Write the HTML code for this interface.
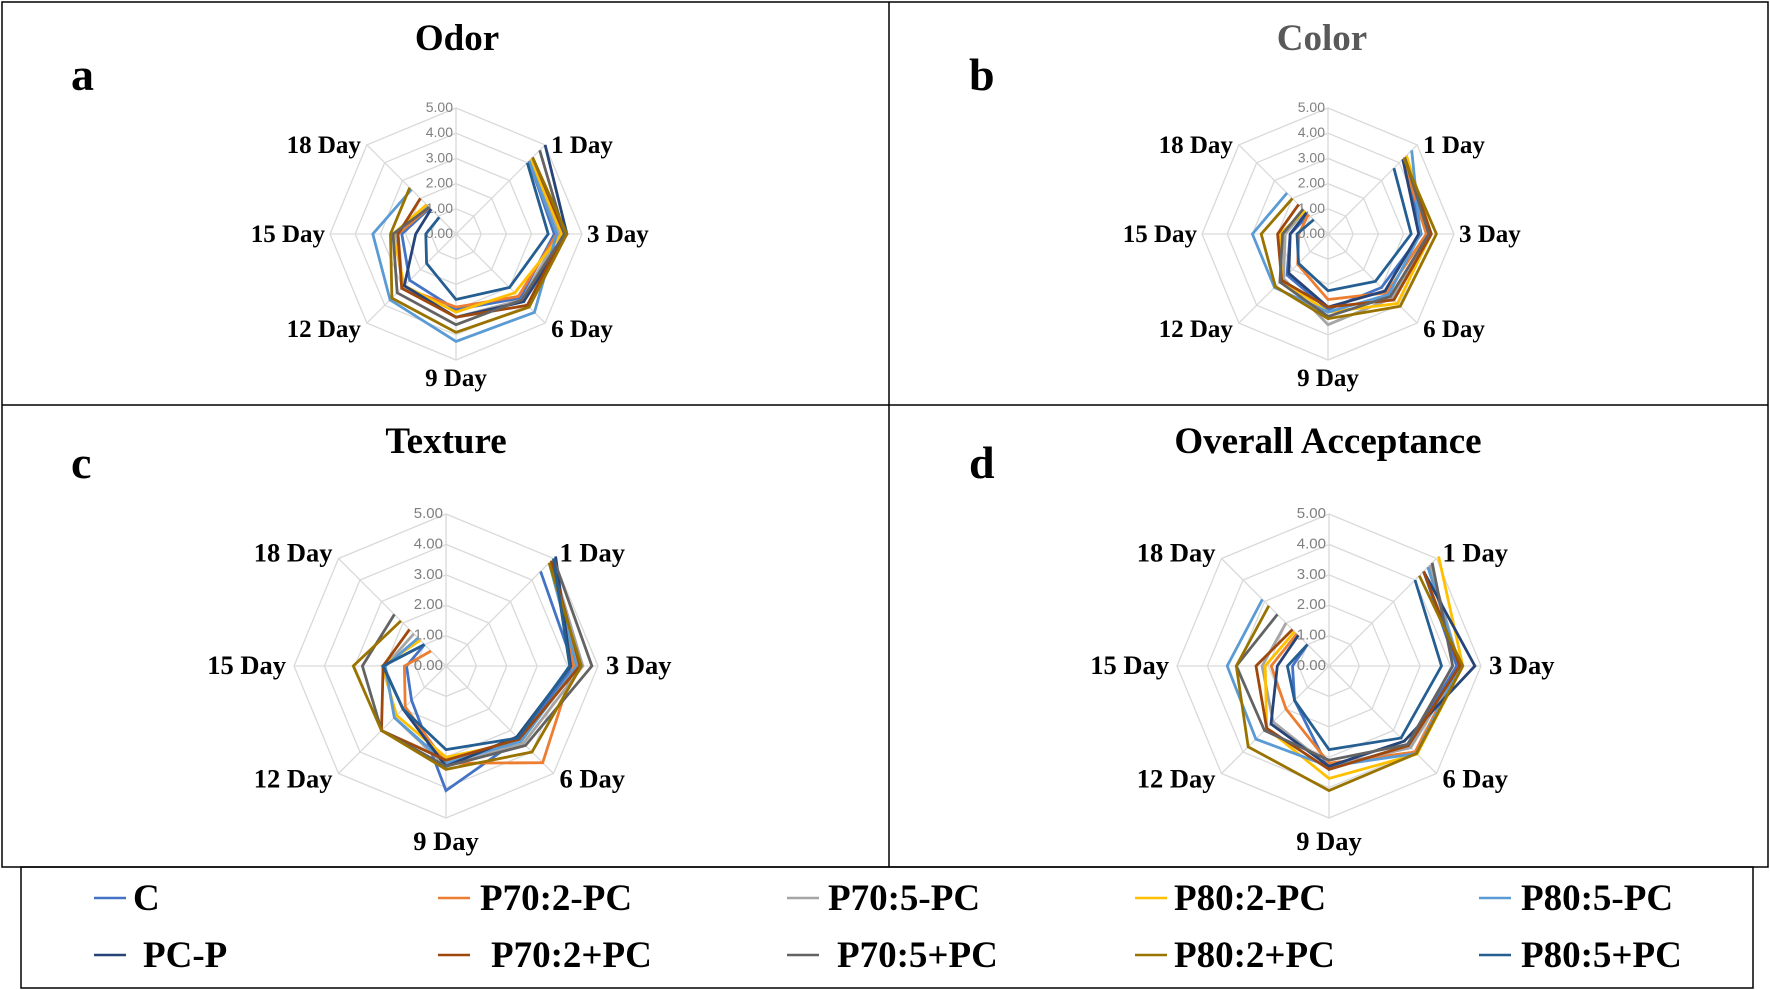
<!DOCTYPE html>
<html><head><meta charset="utf-8"><style>
html,body{margin:0;padding:0;background:#fff}
svg{display:block}
</style></head><body>
<svg id="s" width="1770" height="990" viewBox="0 0 1770 990" xmlns="http://www.w3.org/2000/svg" font-family="Liberation Serif, serif">
<rect x="2" y="2" width="1766" height="865" fill="none" stroke="#000" stroke-width="1.5"/>
<line x1="889" y1="2" x2="889" y2="867" stroke="#000" stroke-width="1.5"/>
<line x1="2" y1="405" x2="1768" y2="405" stroke="#000" stroke-width="1.5"/>
<rect x="21" y="867" width="1732" height="121" fill="none" stroke="#000" stroke-width="1.5"/>
<g font-weight="bold" font-size="46" fill="#000">
<text x="71" y="90">a</text><text x="969" y="90">b</text>
<text x="71" y="478">c</text><text x="969" y="478">d</text>
</g>
<g font-weight="bold" font-size="37" text-anchor="middle">
<text x="457" y="50" fill="#000">Odor</text>
<text x="1322" y="50" fill="#595959">Color</text>
<text x="446" y="453" fill="#000">Texture</text>
<text x="1328" y="453" fill="#000">Overall Acceptance</text>
</g>
<g id="charts"></g>
<g id="legend" font-weight="bold" font-size="37"></g>
</svg>
<script>
var cols=["#4472C4","#ED7D31","#A5A5A5","#FFC000","#5B9BD5","#264478","#9E480E","#636363","#997300","#255E91"];
var names=["C","P70:2-PC","P70:5-PC","P80:2-PC","P80:5-PC","PC-P","P70:2+PC","P70:5+PC","P80:2+PC","P80:5+PC"];
var panels=[
{cx:456,cy:234,R:126,data:[
[4.1,3.9,3.6,3.0,2.6,2.15,1.46],[4.1,4.0,3.5,2.9,3.0,2.3,1.5],[4.2,4.1,3.7,3.3,3.0,2.4,1.6],[4.2,4.2,3.3,3.1,2.9,2.5,1.65],[4.1,4.0,4.4,4.26,3.7,3.3,2.5],
[5.0,4.4,3.8,3.3,2.9,1.6,1.4],[4.3,4.3,4.0,3.3,3.05,2.3,2.0],[4.7,4.3,3.7,3.6,3.3,2.5,1.5],[4.3,4.4,4.1,3.9,3.6,2.6,2.6],[4.0,3.66,3.0,2.6,1.65,1.2,0.94]]},
{cx:1328,cy:234,R:126,data:[
[4.3,3.7,3.0,3.0,2.3,1.5,1.08],[4.2,3.9,3.3,2.6,1.7,1.16,1.1],[4.4,4.0,3.6,3.6,2.5,1.7,1.3],[4.4,4.1,3.9,3.1,2.6,1.9,1.3],[4.7,3.66,3.4,3.1,3.0,3.0,2.3],
[4.2,3.6,3.2,2.9,2.2,1.5,1.2],[4.3,4.1,3.7,2.9,2.6,2.0,1.65],[4.3,4.0,3.5,3.27,2.7,1.8,1.4],[4.25,4.3,4.06,3.36,2.95,2.65,2.0],[3.7,3.3,2.66,2.25,1.65,1.23,0.8]]},
{cx:446,cy:666,R:152,data:[
[4.4,4.2,3.4,4.1,1.6,1.3,1.0],[4.9,4.2,4.5,3.2,1.9,1.37,0.7],[4.9,4.5,3.6,3.3,2.4,2.0,1.5],[4.8,4.3,3.5,3.0,2.3,2.1,1.2],[4.8,4.3,3.5,3.2,2.4,2.0,1.3],
[5.1,4.1,3.3,3.3,2.0,2.07,1.0],[4.9,4.4,3.4,3.1,3.0,2.07,1.7],[5.0,4.8,3.7,3.3,3.0,2.75,2.4],[4.8,4.45,4.0,3.4,3.0,3.05,2.1],[5.0,4.07,3.35,2.75,2.0,2.07,1.0]]},
{cx:1329,cy:666,R:152,data:[
[4.4,4.2,3.7,3.4,1.6,1.2,1.0],[4.6,4.3,4.0,3.2,2.0,1.9,1.5],[4.7,4.3,3.8,3.3,2.6,2.2,2.0],[5.1,4.4,4.1,3.7,2.9,2.1,1.6],[4.6,4.3,4.07,3.3,3.4,3.35,3.1],
[4.4,4.8,3.5,3.3,2.7,1.7,1.43],[4.4,4.3,3.7,3.4,2.9,2.4,1.7],[4.8,4.07,3.65,3.1,3.0,3.05,2.4],[4.2,4.4,4.07,4.1,3.76,3.05,2.8],[4.0,3.7,3.35,2.75,1.6,1.37,1.0]]}
];
var labels=["1 Day","3 Day","6 Day","9 Day","12 Day","15 Day","18 Day"];
var ns="http://www.w3.org/2000/svg",g=document.getElementById("charts");
function el(t,a,txt){var e=document.createElementNS(ns,t);for(var k in a)e.setAttribute(k,a[k]);if(txt!=null)e.textContent=txt;g.appendChild(e);return e;}
function pt(p,i,v){var a=i*Math.PI/4;return [p.cx+Math.sin(a)*v*p.R/5,p.cy-Math.cos(a)*v*p.R/5];}
panels.forEach(function(p){
 var big=p.R>140;
 for(var r=1;r<=5;r++){var s=[];for(var i=0;i<8;i++){var q=pt(p,i,r);s.push(q[0].toFixed(1)+","+q[1].toFixed(1));}
  el("polygon",{points:s.join(" "),fill:"none",stroke:"#d9d9d9","stroke-width":1.3});}
 for(var i=0;i<8;i++){var q=pt(p,i,5);el("line",{x1:p.cx,y1:p.cy,x2:q[0],y2:q[1],stroke:"#d9d9d9","stroke-width":1.3});}
 var fs=big?15:14;
 for(var r=0;r<=5;r++){el("text",{x:p.cx-3,y:p.cy-r*p.R/5+4,"text-anchor":"end","font-family":"Liberation Sans, sans-serif","font-size":fs,fill:"#7f7f7f"},r.toFixed(2));}
 p.data.forEach(function(d,k){var s=[];d.forEach(function(v,i){var q=pt(p,i+1,v);s.push(q[0].toFixed(1)+","+q[1].toFixed(1));});
  el("polyline",{points:s.join(" "),fill:"none",stroke:cols[k],"stroke-width":2.8,"stroke-linejoin":"miter"});});
 var fz=big?26.5:25;
 labels.forEach(function(L,i){var a=(i+1)*Math.PI/4,sx=Math.sin(a),sy=-Math.cos(a);
  var R=p.R, x,y,anc;
  if(Math.abs(sx)<0.1){x=p.cx;y=p.cy+R+(big?32:26);anc="middle";}
  else if(Math.abs(sy)<0.1){x=p.cx+sx*(R+(big?8:5));y=p.cy+8;anc=sx>0?"start":"end";}
  else{x=p.cx+(sx>0?1:-1)*(R*0.707+6);y=p.cy+(sy>0?1:-1)*R*0.707+8+(sy>0?6:(big?-5:0));anc=sx>0?"start":"end";}
  el("text",{x:x,y:y,"text-anchor":anc,"font-weight":"bold","font-size":fz,fill:"#000"},L);});
});
var lg=document.getElementById("legend");
var lx=[94,438,787,1135,1479],tx=[133,480,828,1174,1521],tx2=[143,491,837,1174,1521];
names.forEach(function(n,k){var c=k%5,r=Math.floor(k/5),y=r?955:898;
 var l=document.createElementNS(ns,"line");l.setAttribute("x1",lx[c]);l.setAttribute("x2",lx[c]+32);l.setAttribute("y1",y);l.setAttribute("y2",y);l.setAttribute("stroke",cols[k]);l.setAttribute("stroke-width",2.6);lg.appendChild(l);
 var t=document.createElementNS(ns,"text");t.setAttribute("x",r?tx2[c]:tx[c]);t.setAttribute("y",y+12);t.textContent=n;lg.appendChild(t);});
</script>
</body></html>
